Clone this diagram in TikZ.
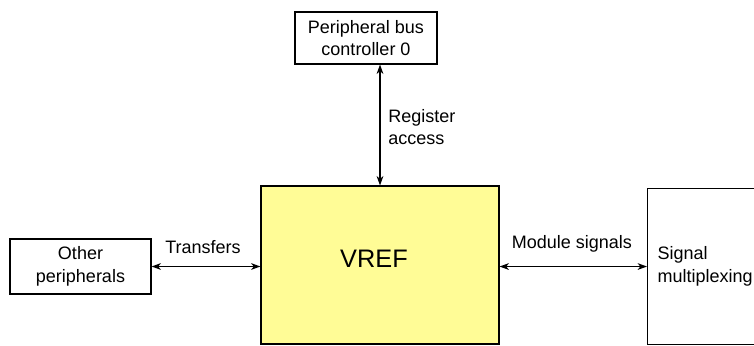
\documentclass[tikz,border=0pt]{standalone}
\usepackage{fontspec}
\setmainfont{Liberation Sans}
\usetikzlibrary{arrows.meta,calc}
\definecolor{vrefyellow}{RGB}{255,252,150}
\tikzset{
  blk/.style={draw=black, line width=0.8pt, inner sep=0pt, align=center,
    font=\fontsize{13.5}{17}\selectfont},
  lbl/.style={inner sep=0pt, align=left, font=\fontsize{13.5}{17}\selectfont},
  link/.style={line width=1.1pt, {Stealth[length=7pt,width=5pt,inset=2pt]}-{Stealth[length=7pt,width=5pt,inset=2pt]}}
}
\begin{document}
\begin{tikzpicture}[x=0.75pt,y=-0.75pt]
\useasboundingbox (0,0) rectangle (754,346);
\clip (0,0) rectangle (754,346);
% boxes
\node[blk, minimum width=142*0.75pt, minimum height=52*0.75pt] (pbc) at (366,38) {Peripheral bus\\controller 0};
\node[blk, fill=vrefyellow, minimum width=238*0.75pt, minimum height=158*0.75pt] (vref) at (380,265) {};
\node[font=\fontsize{19}{23}\selectfont, inner sep=0pt] (vreft) at (374,259) {VREF};
\node[blk, minimum width=141*0.75pt, minimum height=55*0.75pt] (oth) at (80.5,266.5) {Other\\peripherals};
\node[blk, anchor=north west, minimum width=150*0.75pt, minimum height=156*0.75pt,
  text width=130*0.75pt, align=left, inner xsep=10*0.75pt] (sig) at (647,188) {Signal\\multiplexing};
% connectors
\draw[link] (pbc.south -| vref.north) -- (vref.north);
\draw[link] (oth.east) -- (oth.east -| vref.west);
\draw[link] (vref.east |- sig.west) -- (sig.west);
% labels
\node[lbl, anchor=west] (ra) at (388,127) {Register\\access};
\node[lbl] (tr) at (203,247) {Transfers};
\node[lbl] (ms) at (572,244) {Module signals};
\end{tikzpicture}
\end{document}
